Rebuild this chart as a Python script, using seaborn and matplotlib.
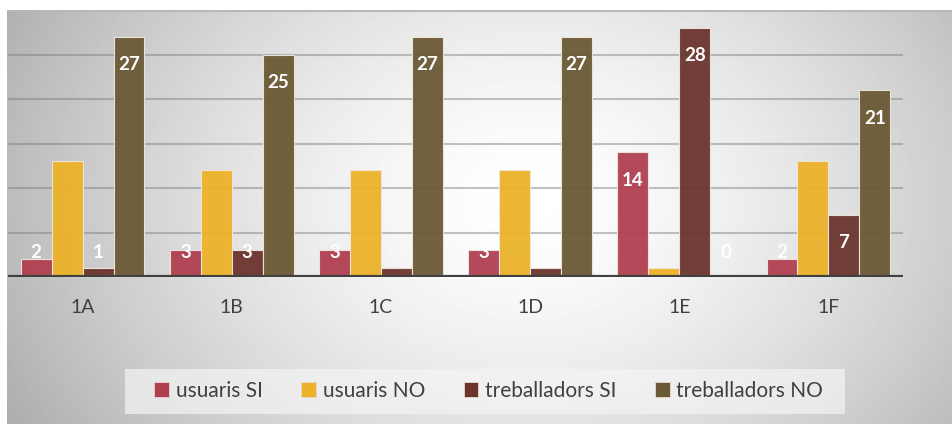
import matplotlib
matplotlib.use("Agg")
import matplotlib.pyplot as plt
import numpy as np
import pandas as pd
import seaborn as sns

categories = ["1A", "1B", "1C", "1D", "1E", "1F"]
series_names = ["usuaris SI", "usuaris NO", "treballadors SI", "treballadors NO"]
usuaris_si = [2, 3, 3, 3, 14, 2]
usuaris_no = [13, 12, 12, 12, 1, 13]
treballadors_si = [1, 3, 1, 1, 28, 7]
treballadors_no = [27, 25, 27, 27, 0, 21]
# which data labels are shown in the original
show_labels = {
    "usuaris SI": [True] * 6,
    "usuaris NO": [False] * 6,
    "treballadors SI": [True, True, False, False, True, True],
    "treballadors NO": [True] * 6,
}
colors = ["#b03f50", "#ecb22a", "#6b352e", "#6a5935"]

values = [usuaris_si, usuaris_no, treballadors_si, treballadors_no]
df = pd.DataFrame({
    "cat": categories * 4,
    "serie": [s for s in series_names for _ in categories],
    "val": [v for vals in values for v in vals],
})

sns.set_style("white")
plt.rcParams["font.family"] = ["Lato", "DejaVu Sans"]

fig = plt.figure(figsize=(9.53, 4.24), dpi=100)
fig.patch.set_facecolor("white")

# radial gradient background of the chart area
bg = fig.add_axes([7 / 953, 0, 1 - 7 / 953, 1 - 10 / 424], zorder=0)
yy, xx = np.mgrid[0:414, 0:946]
r = np.sqrt((xx - 520) ** 2 + ((yy - 190) * 1.3) ** 2) / 540
shade = np.clip(1 - 0.28 * np.clip(r, 0, 1.2) ** 1.5, 0, 1)
bg.imshow(shade, cmap="gray", vmin=0, vmax=1, aspect="auto", interpolation="bilinear")
bg.axhline(0, color="#b8b8b8", lw=1.5)
bg.set_axis_off()

ax = fig.add_axes([8 / 953, 1 - 277 / 424, 895 / 953, 267 / 424], zorder=1)
ax.patch.set_alpha(0)
sns.barplot(data=df, x="cat", y="val", hue="serie", order=categories,
            hue_order=series_names, palette=colors, width=0.83, gap=0,
            saturation=1, edgecolor="#efe6dc", linewidth=0.8, alpha=0.95,
            legend=False, ax=ax, zorder=3)

ax.set_ylim(0, 30)
ax.set_xlim(-0.5, 5.5)
for g in [5, 10, 15, 20, 25]:
    ax.axhline(g, color="#7a7a7a", alpha=0.45, lw=1.5, zorder=1)
ax.axhline(0, color="#404040", lw=3, zorder=4)

for cont, name in zip(ax.containers, series_names):
    for bar, show in zip(cont, show_labels[name]):
        if not show:
            continue
        v = bar.get_height()
        y = max(v - 3.15, 2.8)
        ax.text(bar.get_x() + bar.get_width() / 2, y, f"{int(v)}",
                ha="center", va="center", color="white", fontsize=13.5,
                fontweight="bold", zorder=5)

for s in ax.spines.values():
    s.set_visible(False)
ax.set_yticks([])
ax.set_xlabel("")
ax.set_ylabel("")
ax.tick_params(axis="x", length=0, pad=16, labelsize=14, labelcolor="#404040")

# legend background box
fig.patches.append(plt.Rectangle((125 / 953, 10 / 424), 720 / 953, 45 / 424,
                                 transform=fig.transFigure, facecolor="#f4f4f4",
                                 alpha=0.7, edgecolor="none", zorder=2))

handles = [plt.Rectangle((0, 0), 1, 1, facecolor=c, edgecolor="#e8d8d0", lw=0.6)
           for c in colors]
leg = fig.legend(handles, series_names, loc="center", ncol=4,
                 bbox_to_anchor=(0.513, 0.078), frameon=False, fontsize=15,
                 handlelength=0.7, handleheight=0.7, handletextpad=0.33,
                 columnspacing=1.85, borderpad=0, borderaxespad=0,
                 labelcolor="#404040")
leg.set_zorder(3)

fig.savefig("out.png", dpi=100)
